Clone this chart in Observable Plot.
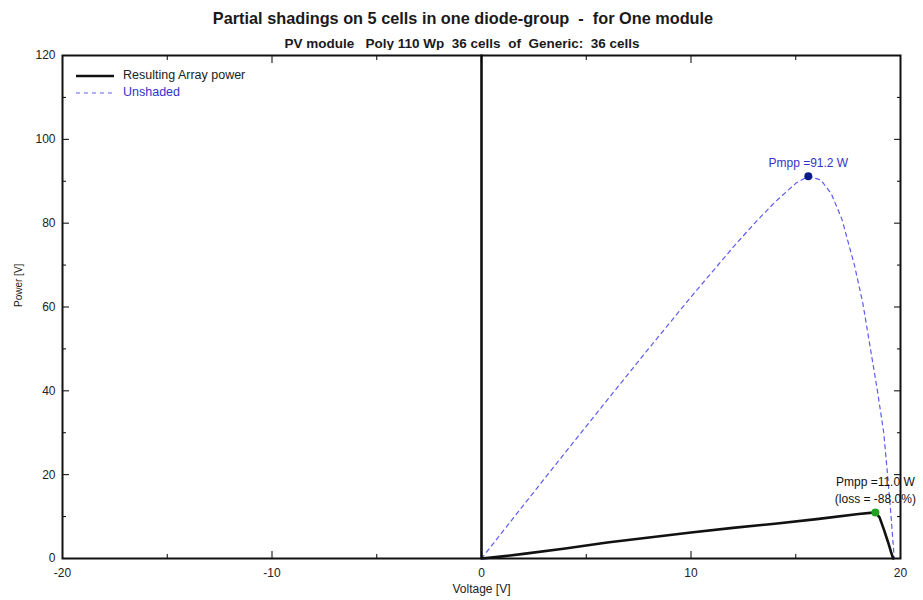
<!DOCTYPE html>
<html><head><meta charset="utf-8">
<script src="https://cdn.jsdelivr.net/npm/d3@7"></script>
<script src="https://cdn.jsdelivr.net/npm/@observablehq/plot@0.6"></script>
<style>
body{margin:0;background:#fff;font-family:"Liberation Sans",Arial,sans-serif;}
#wrap{position:relative;width:923px;height:600px;overflow:hidden;background:#fff;}
#title{position:absolute;top:9px;left:0;width:926px;text-align:center;font-weight:bold;font-size:16.3px;color:#1a1a1a;white-space:pre;}
#subtitle{position:absolute;top:36px;left:0;width:924px;text-align:center;font-weight:bold;font-size:13.5px;color:#1a1a1a;white-space:pre;}
#chart{position:absolute;top:50px;left:0;}
#legend{position:absolute;left:75px;top:67px;font-size:12.5px;line-height:17px;}
#legend div{display:flex;align-items:center;}
#legend svg{margin-right:8px;}
</style></head>
<body>
<div id="wrap">
  <div id="title"></div>
  <div id="subtitle"></div>
  <div id="chart"></div>
  <div id="legend"></div>
</div>
<script>
// ---- texts ----
const titleText = "Partial shadings on 5 cells in one diode-group  -  for One module";
const subtitleText = "PV module   Poly 110 Wp  36 cells  of  Generic:  36 cells";
const xLabel = ["Voltage [V]"];
const yLabel = ["Power [V]"];
const seriesNames = ["Resulting Array power", "Unshaded"];

// ---- ticks ----
const xMajor = [-20, -10, 0, 10, 20];
const xMinor = [-15, -5, 5, 15];
const yMajor = [0, 20, 40, 60, 80, 100, 120];
const yMinor = [10, 30, 50, 70, 90, 110];

// ---- Unshaded P-V curve ----
const unshadedV = [0, 2, 4, 6, 8, 10, 12, 13, 14, 15, 15.6, 16.2, 16.7, 17.2, 17.8, 18.2, 18.6, 18.9, 19.2, 19.4, 19.55, 19.7];
const unshadedP = [0, 12.7, 25.3, 37.8, 50.2, 62.4, 74.2, 79.8, 85.0, 89.5, 91.2, 90.3, 87.0, 81.0, 70.0, 61.0, 49.0, 40.0, 30.0, 19.0, 10.0, 0];

// ---- Resulting array P-V curve ----
const arrayV = [0, 0, 1, 2, 4, 6, 8, 10, 12, 14, 16, 18, 18.8, 19.0, 19.2, 19.4, 19.55, 19.65];
const arrayP = [120, 0, 0.5, 1.1, 2.4, 3.8, 5.0, 6.2, 7.3, 8.3, 9.4, 10.6, 11.0, 9.8, 7.0, 4.0, 1.5, 0];

// ---- MPP points ----
const mppV = [15.6, 18.8];
const mppP = [91.2, 11.0];
const mppLabel1 = ["Pmpp =91.2 W", "Pmpp =11.0 W"];
const mppLabel2 = ["", "(loss = -88.0%)"];

const colBlack = "#111";
const colBlue = "#5b5bf0";
const colBlueText = "#3333cc";

document.getElementById("title").textContent = titleText;
document.getElementById("subtitle").textContent = subtitleText;

const unshaded = unshadedV.map((v, i) => ({V: v, P: unshadedP[i]}));
const arr = arrayV.map((v, i) => ({V: v, P: arrayP[i]}));
const mpp = mppV.map((v, i) => ({V: v, P: mppP[i], l1: mppLabel1[i], l2: mppLabel2[i], i}));

const none = () => "";
const plain = (d) => String(d);
const chart = Plot.plot({
  width: 923,
  height: 550,
  marginTop: 5,
  marginBottom: 42,
  marginLeft: 62,
  marginRight: 23,
  style: {fontFamily: "Liberation Sans, Arial, sans-serif", fontSize: "12px", background: "white", overflow: "visible"},
  x: {domain: [-20, 20]},
  y: {domain: [0, 120]},
  marks: [
    Plot.line(unshaded, {x: "V", y: "P", stroke: colBlue, strokeWidth: 1.2, strokeDasharray: "4,4"}),
    Plot.line(arr, {x: "V", y: "P", stroke: colBlack, strokeWidth: 2.6}),
    Plot.dot(mpp, {x: "V", y: "P", r: 4, fill: (d) => d.i === 0 ? "#0a1a8a" : "#22a022"}),
    Plot.text(mpp.filter(d => d.i === 0), {x: "V", y: "P", text: "l1", dy: -13, fill: colBlueText, fontSize: 12}),
    Plot.text(mpp.filter(d => d.i === 1), {x: "V", y: "P", text: "l1", dy: -30, fill: "#111", fontSize: 12}),
    Plot.text(mpp.filter(d => d.i === 1), {x: "V", y: "P", text: "l2", dy: -13, fill: "#111", fontSize: 12}),
    Plot.axisX(xMajor, {anchor: "bottom", tickSize: -7, tickPadding: 17, tickFormat: plain, label: null, fill: "#222", fontSize: 12}),
    Plot.axisX(xMinor, {anchor: "bottom", tickSize: -4, tickFormat: none, label: null}),
    Plot.axisX(xMajor, {anchor: "top", tickSize: -7, tickFormat: none, label: null}),
    Plot.axisX(xMinor, {anchor: "top", tickSize: -4, tickFormat: none, label: null}),
    Plot.axisY(yMajor, {anchor: "left", tickSize: -7, tickPadding: 14, tickFormat: plain, label: null, fill: "#222", fontSize: 12}),
    Plot.axisY(yMinor, {anchor: "left", tickSize: -4, tickFormat: none, label: null}),
    Plot.axisY(yMajor, {anchor: "right", tickSize: -7, tickFormat: none, label: null}),
    Plot.axisY(yMinor, {anchor: "right", tickSize: -4, tickFormat: none, label: null}),
    Plot.frame({stroke: "#111", strokeWidth: 2}),
    Plot.text(xLabel, {frameAnchor: "bottom", dy: 34, fontSize: 12, fill: "#222"}),
    Plot.text(yLabel, {frameAnchor: "left", dx: -44, rotate: -90, fontSize: 10, fill: "#222"})
  ]
});
document.getElementById("chart").appendChild(chart);

// legend overlay
const legend = document.getElementById("legend");
seriesNames.forEach((name, i) => {
  const row = document.createElement("div");
  const dash = i === 0 ? "" : ` stroke-dasharray="4,4"`;
  const col = i === 0 ? colBlack : colBlue;
  const w = i === 0 ? 2.6 : 1.2;
  row.innerHTML = `<svg width="40" height="10"><line x1="1" x2="39" y1="5" y2="5" stroke="${col}" stroke-width="${w}"${dash}/></svg><span style="color:${i === 0 ? '#222' : colBlueText}">${name}</span>`;
  legend.appendChild(row);
});
</script>
</body></html>
